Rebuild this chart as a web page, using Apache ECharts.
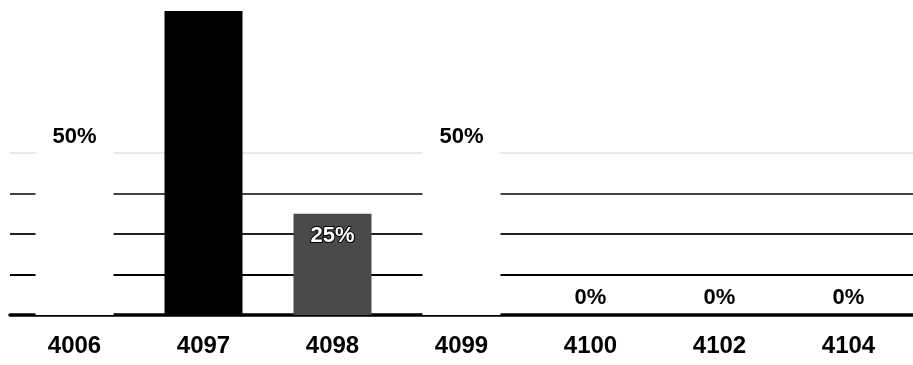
<!DOCTYPE html>
<html>
<head>
<meta charset="utf-8">
<script src="https://cdn.jsdelivr.net/npm/echarts@6/dist/echarts.min.js"></script>
<style>html,body{margin:0;padding:0;background:#fff;}#c{width:913px;height:365px;}</style>
</head>
<body>
<div id="c"></div>
<script>
const categories = ['4006', '4097', '4098', '4099', '4100', '4102', '4104'];
const values = [50, 75, 25, 50, 0, 0, 0];
const yTicks = [0, 10, 20, 30, 40, 50, 60, 70];

const barColors = ['#ffffff', '#000000', '#4a4a4a', '#ffffff', '#ffffff', '#ffffff', '#ffffff'];
const FONT = '"Liberation Sans", Arial, sans-serif';

const chart = echarts.init(document.getElementById('c'), null, {renderer: 'canvas'});
chart.setOption({
  animation: false,
  backgroundColor: '#ffffff',
  grid: {left: 10, top: 11, right: -6, bottom: 50, containLabel: false},
  xAxis: {
    type: 'category',
    data: categories,
    axisLine: {show: true, lineStyle: {color: '#000', width: 3.5}},
    axisTick: {show: false},
    axisLabel: {color: '#000', fontFamily: FONT, fontWeight: 'bold', fontSize: 24, margin: 19}
  },
  yAxis: {
    type: 'value',
    min: yTicks[0],
    max: 75,
    interval: 10,
    axisLine: {show: false},
    axisTick: {show: false},
    axisLabel: {show: false},
    splitLine: {show: true, lineStyle: {color: ['rgba(0,0,0,0)', '#000', '#222', '#444', '#e8e8e8', 'rgba(0,0,0,0)', 'rgba(0,0,0,0)', 'rgba(0,0,0,0)', 'rgba(0,0,0,0)'], width: 2}}
  },
  series: [{
    type: 'bar',
    barWidth: 78,
    data: values.map((v, i) => ({
      value: v,
      itemStyle: {color: barColors[i]},
      label: v === 0 ? {position: 'top', distance: 6} :
             (barColors[i] === '#4a4a4a' ? {color: '#fff', textBorderColor: '#000', textBorderWidth: 2, distance: 11} : {})
    })),
    label: {
      show: true,
      position: 'insideTop',
      distance: 14,
      formatter: p => p.value + '%',
      color: '#000',
      fontFamily: FONT,
      fontWeight: 'bold',
      fontSize: 22
    }
  }]
});
</script>
</body>
</html>
